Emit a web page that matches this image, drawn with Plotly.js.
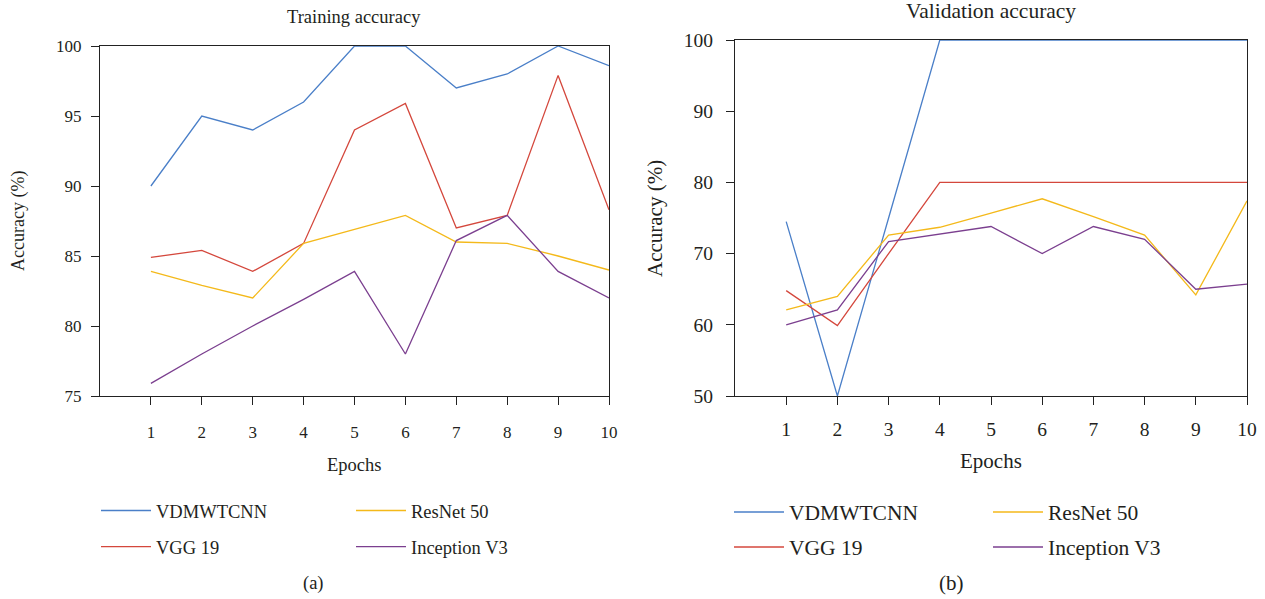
<!DOCTYPE html>
<html>
<head>
<meta charset="utf-8">
<script src="https://cdn.plot.ly/plotly-3.0.1.min.js"></script>
<style>html,body{margin:0;padding:0;background:#fff;}#chart{width:1265px;height:599px;}</style>
</head>
<body>
<div id="chart"></div>
<script>
const epochs = [1, 2, 3, 4, 5, 6, 7, 8, 9, 10];
const seriesNames = ['VDMWTCNN', 'VGG 19', 'ResNet 50', 'Inception V3'];

const trainVDMWTCNN = [90, 95, 94, 96, 100, 100, 97, 98, 100, 98.6];
const trainVGG19 = [84.9, 85.4, 83.9, 85.9, 94, 95.9, 87, 87.9, 97.9, 88.3];
const trainResNet50 = [83.9, 82.9, 82, 85.9, 86.9, 87.9, 86, 85.9, 85, 84];
const trainInceptionV3 = [75.9, 78, 80, 81.9, 83.9, 78, 86.1, 87.9, 83.9, 82];

const valVDMWTCNN = [74.5, 50, 75, 100, 100, 100, 100, 100, 100, 100];
const valVGG19 = [64.8, 59.9, 70, 80, 80, 80, 80, 80, 80, 80];
const valResNet50 = [62.1, 64, 72.6, 73.7, 75.7, 77.7, 75.2, 72.6, 64.2, 77.4];
const valInceptionV3 = [60, 62.1, 71.7, 72.8, 73.8, 70, 73.8, 72, 65, 65.7];

const trainTicks = [75, 80, 85, 90, 95, 100];
const valTicks = [50, 60, 70, 80, 90, 100];

const colors = ['#4a7fc8', '#d4473c', '#f4b91a', '#7b3f8f'];
const W = 1265, H = 599;
const px = x => x / W;
const py = y => 1 - y / H;
const FONT = 'Liberation Serif';
const TXT = '#231f20';

const trainData = [trainVDMWTCNN, trainVGG19, trainResNet50, trainInceptionV3];
const valData = [valVDMWTCNN, valVGG19, valResNet50, valInceptionV3];

const traces = [];
trainData.forEach((ys, i) => {
  traces.push({x: epochs, y: ys, type: 'scatter', mode: 'lines', name: seriesNames[i],
    line: {color: colors[i], width: 1.3}, xaxis: 'x', yaxis: 'y',
    legend: 'legend' + (i === 0 ? '' : (i + 1))});
});
valData.forEach((ys, i) => {
  traces.push({x: epochs, y: ys, type: 'scatter', mode: 'lines', name: seriesNames[i],
    line: {color: colors[i], width: 1.3}, xaxis: 'x2', yaxis: 'y2',
    legend: 'legend' + (i + 5)});
});

function xAxis(domain, fs, standoff) {
  return {domain: domain, range: [0, 10], tickvals: epochs, ticks: 'outside', ticklen: 8,
    tickcolor: '#222', tickwidth: 1, showline: true, mirror: true, linecolor: '#222', linewidth: 1,
    showgrid: false, zeroline: false, fixedrange: true, layer: 'below traces',
    tickfont: {family: FONT, size: fs, color: TXT}, ticklabelstandoff: standoff};
}
function yAxis(domain, range, tv, fs, standoff, anchor) {
  return {domain: domain, range: range, tickvals: tv, ticks: 'outside', ticklen: 8,
    tickcolor: '#222', tickwidth: 1, showline: true, mirror: true, linecolor: '#222', linewidth: 1,
    showgrid: false, zeroline: false, fixedrange: true, layer: 'below traces', anchor: anchor,
    tickfont: {family: FONT, size: fs, color: TXT}, ticklabelstandoff: standoff};
}

function leg(x, y, fs) {
  return {x: px(x), y: py(y), xanchor: 'left', yanchor: 'middle', bgcolor: 'rgba(0,0,0,0)',
    borderwidth: 0, itemwidth: 50, font: {family: FONT, size: fs, color: TXT}, orientation: 'v'};
}

function ann(text, x, y, fs, angle) {
  return {text: text, x: px(x), y: py(y), xref: 'paper', yref: 'paper', showarrow: false,
    xanchor: 'center', yanchor: 'middle', textangle: angle || 0,
    font: {family: FONT, size: fs, color: TXT}};
}

const layout = {
  width: W, height: H, margin: {l: 0, r: 0, t: 0, b: 0},
  font: {family: FONT, color: TXT},
  paper_bgcolor: '#fff', plot_bgcolor: '#fff', showlegend: true,
  xaxis: xAxis([px(100), px(609)], 17, 13),
  yaxis: yAxis([py(396), py(46)], [75, 100], trainTicks, 17, 6, 'x'),
  xaxis2: xAxis([px(735), px(1247)], 19.5, 8),
  yaxis2: yAxis([py(396), py(40)], [50, 100], valTicks, 19.5, 9, 'x2'),
  legend: leg(96, 511, 18.5),
  legend2: leg(96, 547, 18.5),
  legend3: leg(351, 511, 18.5),
  legend4: leg(351, 547, 18.5),
  legend5: leg(729, 512, 21.5),
  legend6: leg(729, 547, 21.5),
  legend7: leg(988, 512, 21.5),
  legend8: leg(988, 547, 21.5),
  annotations: [
    ann('Training accuracy', 354, 17, 18.5),
    ann('Epochs', 354, 465, 18.5),
    ann('Accuracy (%)', 18, 221, 18),
    ann('(a)', 313, 583, 18.5),
    ann('Validation accuracy', 991, 11, 21.5),
    ann('Epochs', 991, 461, 21),
    ann('Accuracy (%)', 655, 219, 21, -90),
    ann('(b)', 951, 583, 21)
  ]
};
layout.annotations[2].textangle = -90;
layout.xaxis2.anchor = 'y2';
layout.xaxis.anchor = 'y';

Plotly.newPlot('chart', traces, layout, {displayModeBar: false, staticPlot: true});
</script>
</body>
</html>
